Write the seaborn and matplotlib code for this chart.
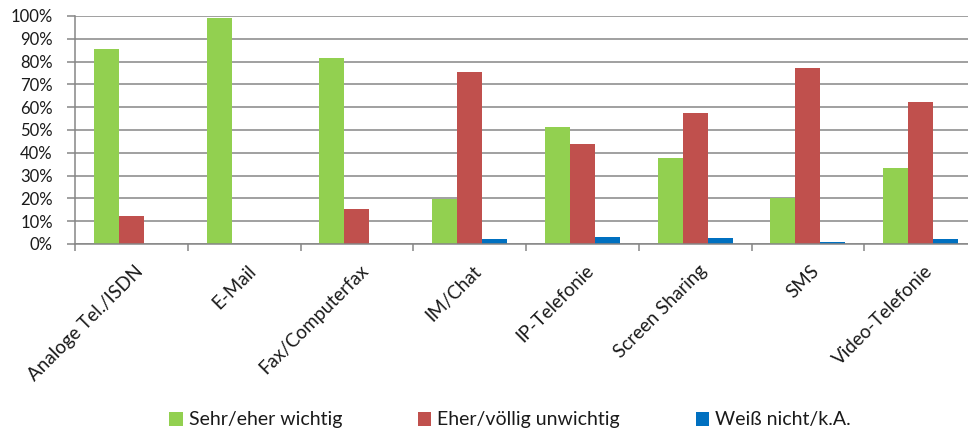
import matplotlib
matplotlib.use("Agg")
import matplotlib.pyplot as plt
import seaborn as sns
import pandas as pd
from matplotlib.ticker import FuncFormatter, MultipleLocator
from matplotlib.patches import Patch
from matplotlib.transforms import ScaledTranslation

categories = ["Analoge Tel./ISDN", "E-Mail", "Fax/Computerfax", "IM/Chat",
              "IP-Telefonie", "Screen Sharing", "SMS", "Video-Telefonie"]
series = ["Sehr/eher wichtig", "Eher/völlig unwichtig", "Weiß nicht/k.A."]
wichtig = [85.5, 99.0, 81.6, 19.6, 51.2, 37.6, 20.0, 33.3]
unwichtig = [12.3, 0.0, 15.4, 75.4, 44.0, 57.3, 77.3, 62.1]
weiss_nicht = [0.0, 0.0, 0.0, 2.2, 3.1, 2.6, 1.0, 2.1]
colors = ["#92D050", "#C0504D", "#0070C0"]

rows = []
for name, vals in zip(series, [wichtig, unwichtig, weiss_nicht]):
    for cat, v in zip(categories, vals):
        rows.append({"Kanal": cat, "Serie": name, "Wert": v})
df = pd.DataFrame(rows)

sns.set_style("white")
plt.rcParams["font.family"] = ["Lato", "DejaVu Sans"]

fig = plt.figure(figsize=(9.68, 4.32), dpi=100)
ax = fig.add_axes([75 / 968, 1 - 244 / 432, (977 - 75) / 968, (244 - 16) / 432])

sns.barplot(data=df, x="Kanal", y="Wert", hue="Serie", order=categories,
            hue_order=series, palette=colors, width=0.667, gap=0,
            saturation=1, linewidth=0, legend=False, ax=ax)

grid_col = "#868686"
text_col = "#1a1a1a"
ax.set_xlim(-0.5, len(categories) - 0.5)
ax.set_ylim(0, 100)
ax.yaxis.set_major_locator(MultipleLocator(10))
ax.yaxis.set_major_formatter(FuncFormatter(lambda v, p: f"{v:.0f}%"))
ax.grid(axis="y", color=grid_col, linewidth=1.1)
ax.set_axisbelow(True)
ax.set_xlabel("")
ax.set_ylabel("")

for s in ["top", "right"]:
    ax.spines[s].set_visible(False)
for s in ["left", "bottom"]:
    ax.spines[s].set_color(grid_col)
    ax.spines[s].set_linewidth(1.1)

# tick marks sit between the category groups on the x axis
ax.set_xticks([i + 0.5 for i in range(-1, len(categories))], minor=True)
ax.tick_params(axis="x", which="minor", length=5, width=1.1, color=grid_col,
               direction="out", bottom=True)
ax.tick_params(axis="x", which="major", length=0, pad=13)
ax.tick_params(axis="y", length=6, width=1.1, color=grid_col, direction="out",
               left=True, labelsize=12, pad=10, labelcolor=text_col)
ax.set_xticks(range(len(categories)))
ax.set_xticklabels(categories, rotation=45, ha="right", va="top",
                   rotation_mode="anchor", fontsize=13.5, color=text_col)
shift = ScaledTranslation(2 / 72, 0, fig.dpi_scale_trans)
for lbl in ax.get_xticklabels():
    lbl.set_transform(lbl.get_transform() + shift)

handles = [Patch(facecolor=c, edgecolor="none", label=s) for c, s in zip(colors, series)]
fig.legend(handles=handles, loc="center", bbox_to_anchor=(510 / 968, 1 - 420 / 432),
           ncol=3, frameon=False, fontsize=14, handlelength=0.7,
           handleheight=0.7, handletextpad=0.3, columnspacing=3.9,
           labelcolor=text_col)

fig.savefig("out.png", dpi=100)
